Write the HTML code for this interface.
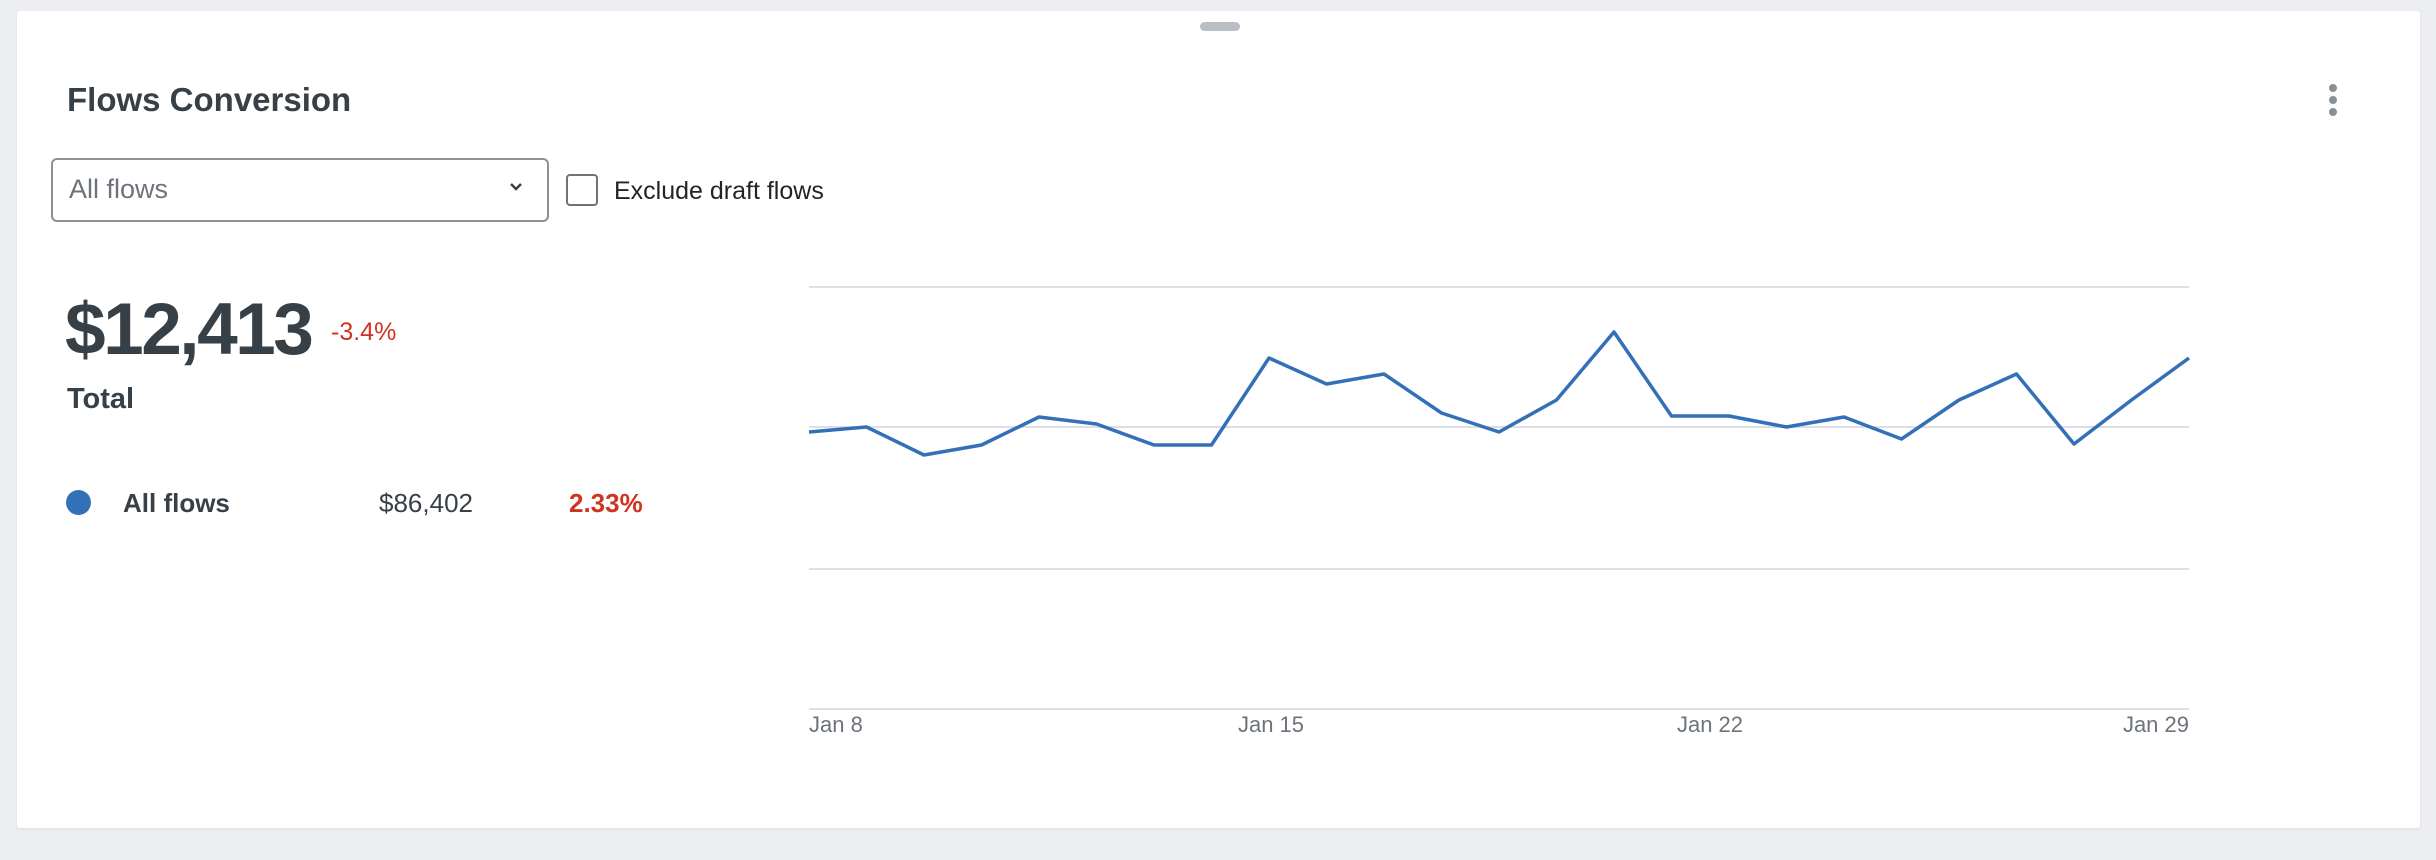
<!DOCTYPE html>
<html><head><meta charset="utf-8"><style>
html,body{margin:0;padding:0;width:2436px;height:860px;background:#eceef1;overflow:hidden;font-family:"Liberation Sans",Arial,sans-serif;color:#373f47}
.card{position:absolute;left:17px;top:11px;width:2403px;height:817px;background:#fff;border-radius:3px;box-shadow:0 1px 3px rgba(0,0,0,.08)}
.a{position:absolute;white-space:nowrap}
</style></head><body>
<div class="card"></div>
<div class="a" style="left:1200px;top:22px;width:40px;height:9px;border-radius:5px;background:#b9bec5"></div>
<div class="a" style="left:67px;top:80px;font-size:33px;font-weight:bold;line-height:40px">Flows Conversion</div>
<div class="a" style="left:2329px;top:84px;width:8px;height:8px;border-radius:50%;background:#8a9097"></div>
<div class="a" style="left:2329px;top:96px;width:8px;height:8px;border-radius:50%;background:#8a9097"></div>
<div class="a" style="left:2329px;top:108px;width:8px;height:8px;border-radius:50%;background:#8a9097"></div>
<div class="a" style="left:51px;top:158px;width:494px;height:60px;border:2px solid #8d9196;border-radius:6px"></div>
<div class="a" style="left:69px;top:172px;font-size:27px;color:#6d737a;line-height:34px">All flows</div>
<svg class="a" style="left:508px;top:181px" width="16" height="12"><path d="M3 3 L8 8 L13 3" fill="none" stroke="#373f47" stroke-width="2.5"/></svg>
<div class="a" style="left:566px;top:174px;width:28px;height:28px;border:2px solid #6d737a;border-radius:4px"></div>
<div class="a" style="left:614px;top:175px;font-size:25px;line-height:32px;color:#1f2429">Exclude draft flows</div>
<div class="a" style="left:65px;top:288px;font-size:73px;font-weight:bold;line-height:84px;letter-spacing:-2.5px">$12,413</div>
<div class="a" style="left:331px;top:317px;font-size:25px;color:#d0331f;line-height:30px">-3.4%</div>
<div class="a" style="left:67px;top:382px;font-size:29px;font-weight:bold;line-height:34px">Total</div>
<div class="a" style="left:66px;top:490px;width:25px;height:25px;border-radius:50%;background:#3370b7"></div>
<div class="a" style="left:123px;top:487px;font-size:26px;font-weight:bold;line-height:32px">All flows</div>
<div class="a" style="left:379px;top:487px;font-size:26px;line-height:32px">$86,402</div>
<div class="a" style="left:569px;top:487px;font-size:26px;font-weight:bold;color:#d0331f;line-height:32px">2.33%</div>
<svg class="a" style="left:0;top:0" width="2436" height="860">
<g stroke="#dcdfe3" stroke-width="2">
<line x1="809" y1="287" x2="2189" y2="287"/>
<line x1="809" y1="427" x2="2189" y2="427"/>
<line x1="809" y1="569" x2="2189" y2="569"/>
<line x1="809" y1="709" x2="2189" y2="709"/>
</g>
<polyline fill="none" stroke="#3370b7" stroke-width="3.5" stroke-linejoin="round" points="809,432 866.5,427 924,455 981.5,445 1039,417 1096.5,424 1154,445 1211.5,445 1269,358 1326.5,384 1384,374 1441.5,413 1499,432 1556.5,400 1614,332 1671.5,416 1729,416 1786.5,427 1844,417 1901.5,439 1959,400 2016.5,374 2074,444 2131.5,400 2189,358"/>
<g font-family="Liberation Sans, Arial, sans-serif" font-size="22" fill="#6d737a">
<text x="809" y="732">Jan 8</text>
<text x="1271" y="732" text-anchor="middle">Jan 15</text>
<text x="1710" y="732" text-anchor="middle">Jan 22</text>
<text x="2189" y="732" text-anchor="end">Jan 29</text>
</g>
</svg>
</body></html>
